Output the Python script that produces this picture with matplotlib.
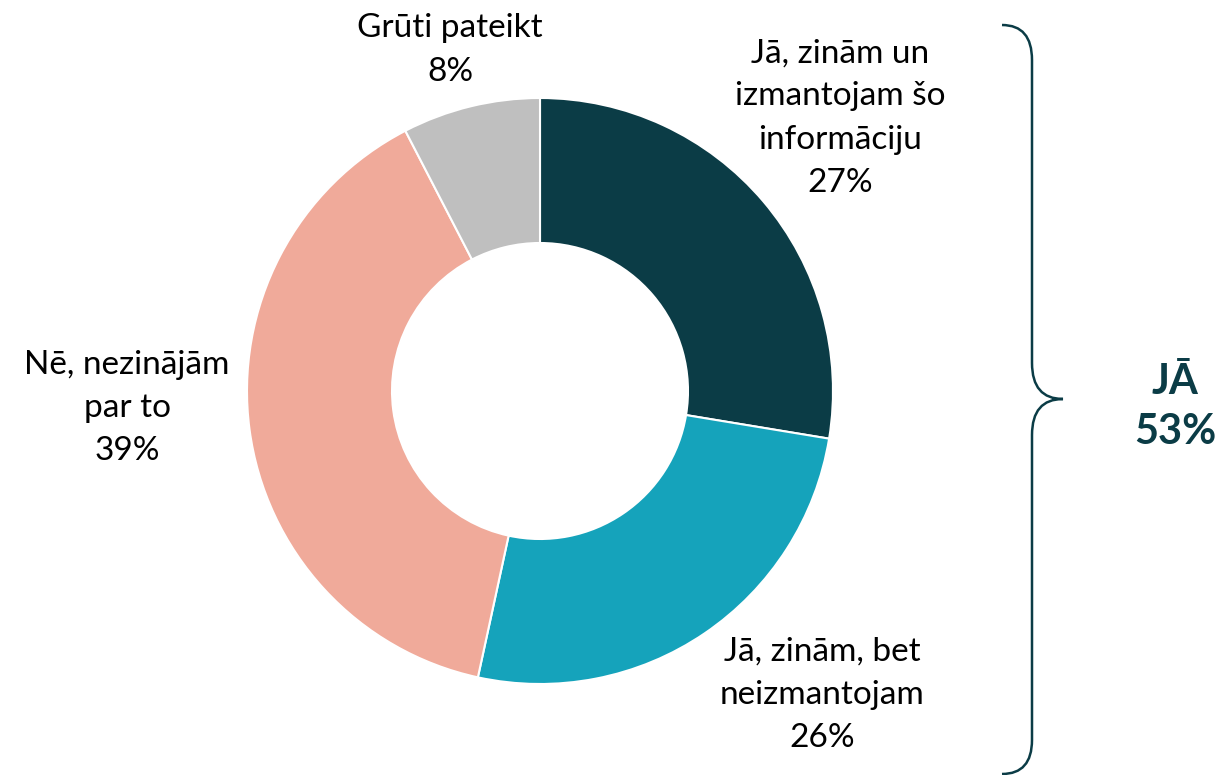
import matplotlib
matplotlib.use("Agg")
import matplotlib.pyplot as plt
from matplotlib.path import Path
from matplotlib.patches import PathPatch

plt.rcParams['font.family'] = ['Lato', 'DejaVu Sans']

# data
labels = ['Jā, zinām un\nizmantojam šo\ninformāciju', 'Jā, zinām, bet\nneizmantojam',
          'Nē, nezinājām\npar to', 'Grūti pateikt']
values = [27.6, 25.8, 39.0, 7.6]
shown = ['27%', '26%', '39%', '8%']
colors = ['#0b3c46', '#15a3bb', '#f0aa9a', '#bfbfbf']
label_pos = [(840, 657), (822, 80), (127, 367), (450, 725)]
total_label = 'JĀ\n53%'

W, H = 1223, 775
fig = plt.figure(figsize=(W / 100, H / 100), dpi=100)
ax = fig.add_axes([0, 0, 1, 1])

cx, cy, r = 540, 384, 293
ax.pie(values, colors=colors, startangle=90, counterclock=False,
       center=(cx, cy), radius=r, frame=True,
       wedgeprops=dict(width=r - 148, edgecolor='white', linewidth=1.5))
ax.set_xlim(0, W)
ax.set_ylim(0, H)
ax.set_aspect('equal')
ax.axis('off')

for lab, s, (x, y) in zip(labels, shown, label_pos):
    ax.text(x, y, f'{lab}\n{s}', ha='center', va='center', fontsize=24,
            linespacing=1.55, color='black')

# brace on the right
tip = 1063
verts = [(1002, 750), (1032, 750), (1032, 715),
         (1032, 412), (1032, 376), (tip, 376),
         (1032, 376), (1032, 340),
         (1032, 35), (1032, 1), (1002, 1)]
codes = [Path.MOVETO, Path.CURVE3, Path.CURVE3,
         Path.LINETO, Path.CURVE3, Path.CURVE3,
         Path.CURVE3, Path.CURVE3,
         Path.LINETO, Path.CURVE3, Path.CURVE3]
ax.add_patch(PathPatch(Path(verts, codes), fill=False, edgecolor='#0b3c46', lw=1.8))

ax.text(1175, 368, total_label, ha='center', va='center', fontsize=30,
        fontweight='bold', color='#0b3c46', linespacing=1.4)

fig.savefig('out.png', dpi=100)
